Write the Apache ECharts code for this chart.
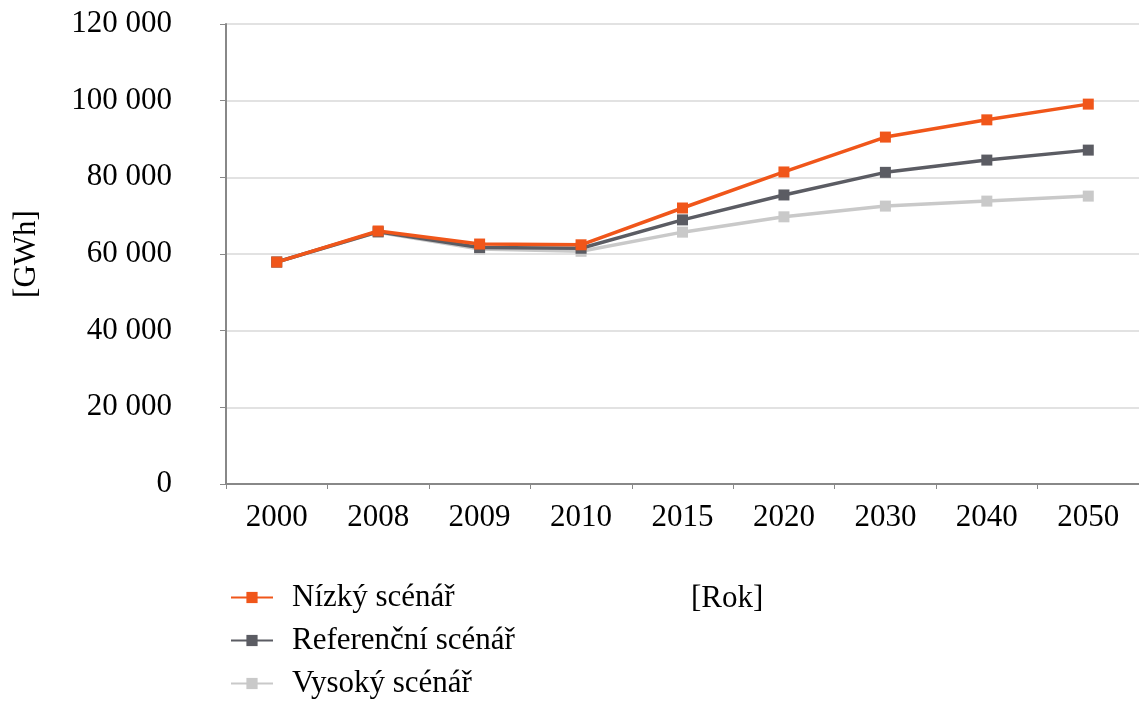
<!DOCTYPE html>
<html>
<head>
<meta charset="utf-8">
<script src="https://cdn.jsdelivr.net/npm/echarts@6/dist/echarts.min.js"></script>
<style>html,body{margin:0;padding:0;background:#fff}#c{width:1139px;height:704px}</style>
</head>
<body>
<div id="c"></div>
<script>
const categories = ['2000','2008','2009','2010','2015','2020','2030','2040','2050'];
const nizky = [57900, 66000, 62600, 62400, 72000, 81400, 90500, 95000, 99100];
const referencni = [57900, 65800, 61700, 61500, 68900, 75400, 81300, 84500, 87100];
const vysoky = [57900, 65700, 61300, 60700, 65700, 69700, 72500, 73800, 75100];
const seriesNames = ['Nízký scénář', 'Referenční scénář', 'Vysoký scénář'];

const FONT = 'Liberation Serif';
const FS = 31;
const chart = echarts.init(document.getElementById('c'));
function mk(name, data, color, z) {
  return {
    name, type: 'line', data, z,
    symbol: 'rect', symbolSize: 11,
    lineStyle: { color, width: 3.5 },
    itemStyle: { color },
    emphasis: { disabled: true }
  };
}
chart.setOption({
  animation: false,
  textStyle: { fontFamily: FONT },
  title: {
    text: '[Rok]', left: 686, top: 578,
    textStyle: { fontFamily: FONT, fontSize: FS, fontWeight: 'normal', color: '#000' }
  },
  legend: {
    data: seriesNames,
    orient: 'vertical', left: 230, top: 582, padding: 0, height: 122,
    itemWidth: 42, itemHeight: 14, itemGap: 12,
    textStyle: { fontFamily: FONT, fontSize: FS, color: '#000', lineHeight: 30, padding: [0,0,0,14] }
  },
  grid: { left: 226, top: 24, width: 931, height: 460 },
  xAxis: {
    type: 'category', data: categories, boundaryGap: true,
    axisLine: { lineStyle: { color: '#888', width: 2 } },
    axisTick: { show: true, length: 5, lineStyle: { color: '#888' } },
    axisLabel: { fontFamily: FONT, fontSize: FS, color: '#000', margin: 18 }
  },
  yAxis: {
    type: 'value', min: 0, max: 120000, interval: 20000,
    name: '[GWh]', nameLocation: 'middle', nameRotate: 90, nameGap: 184,
    nameTextStyle: { fontFamily: FONT, fontSize: FS, color: '#000' },
    axisLine: { show: true, lineStyle: { color: '#888', width: 2 } },
    axisTick: { show: true, inside: false, length: 6, lineStyle: { color: '#888' } },
    splitLine: { lineStyle: { color: '#d9d9d9', width: 1.5 } },
    axisLabel: {
      fontFamily: FONT, fontSize: FS, color: '#000', margin: 54,
      formatter: v => String(v).replace(/\B(?=(\d{3})+(?!\d))/g, ' ')
    }
  },
  series: [
    mk(seriesNames[2], vysoky, '#c9c9c9', 2),
    mk(seriesNames[1], referencni, '#5b5c63', 3),
    mk(seriesNames[0], nizky, '#f0561a', 4)
  ]
});
</script>
</body>
</html>
